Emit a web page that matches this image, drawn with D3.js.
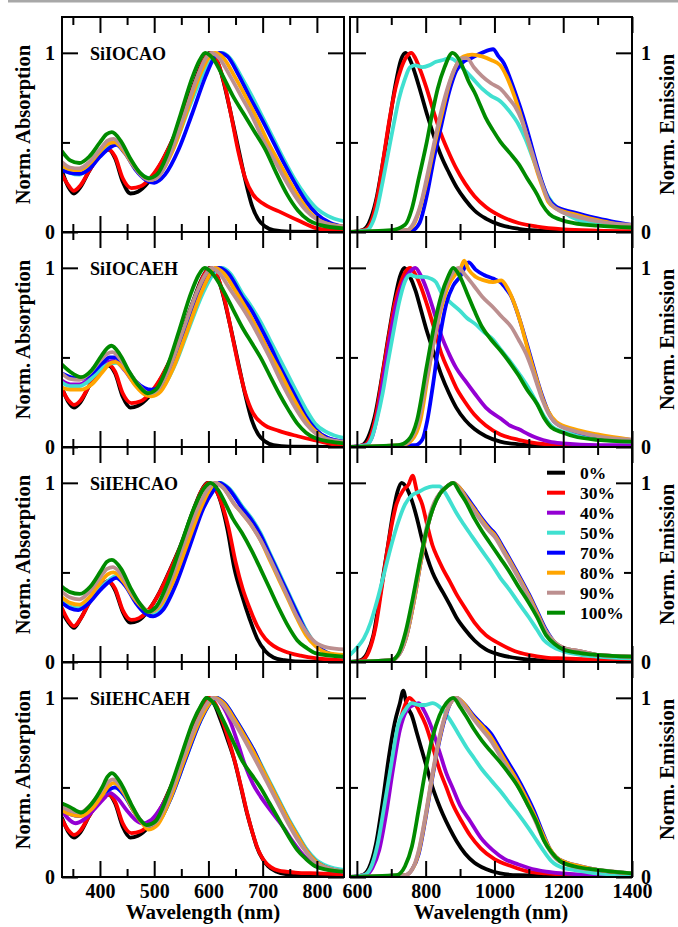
<!DOCTYPE html>
<html><head><meta charset="utf-8">
<script src="https://cdn.jsdelivr.net/npm/d3@7"></script>
<style>body{margin:0;background:#fff}svg{display:block}</style>
</head><body>
<script>
// ---------- categories / labels ----------
const concentrations = ["0%","30%","40%","50%","70%","80%","90%","100%"];
const seriesColors = ["#000000","#ff0000","#9400d3","#40e0d0","#0000ff","#ffa500","#bc8f8f","#008b00"];
const samples = ["SiIOCAO","SiIOCAEH","SiIEHCAO","SiIEHCAEH"];
const absXMajor = [400,500,600,700,800];
const absXMinor = [350,450,550,650,750];
const emXMajor = [600,800,1000,1200,1400];
const emXMinor = [700,900,1100,1300];
const yMajor = [0,1];
const yMinor = [0.5];

// ---------- Row 1: SiIOCAO ----------
const abs1_p0 = [[330,.34],[342,.25],[352,.215],[364,.25],[380,.34],[400,.43],[416,.46],[428,.41],[442,.28],[456,.215],[470,.225],[490,.28],[510,.37],[530,.49],[550,.63],[570,.8],[588,.94],[602,1],[614,.97],[626,.86],[640,.68],[655,.47],[668,.29],[680,.15],[692,.07],[705,.03],[720,.01],[750,.002],[850,0]];
const abs1_p30 = [[330,.32],[342,.26],[352,.23],[364,.26],[380,.34],[400,.43],[416,.46],[428,.42],[442,.3],[458,.245],[475,.255],[495,.31],[515,.4],[535,.52],[555,.66],[575,.83],[592,.96],[605,1],[618,.94],[630,.82],[642,.65],[655,.45],[668,.3],[682,.21],[700,.16],[730,.115],[765,.065],[800,.02],[830,.008],[850,.005]];
const abs1_p50 = [[330,.36],[345,.33],[362,.32],[380,.36],[400,.43],[418,.48],[432,.495],[448,.44],[465,.36],[482,.31],[495,.3],[515,.35],[540,.5],[565,.7],[590,.88],[610,.98],[625,1],[640,.97],[660,.87],[680,.76],[700,.64],[720,.52],[740,.4],[760,.29],[780,.2],[800,.13],[820,.09],[850,.06]];
const abs1_p70 = [[330,.345],[345,.33],[362,.325],[380,.35],[400,.42],[418,.47],[430,.486],[446,.44],[465,.35],[485,.29],[500,.275],[520,.32],[545,.46],[570,.66],[595,.87],[610,.97],[620,1],[635,.98],[655,.88],[675,.76],[700,.62],[720,.5],[740,.38],[760,.27],[780,.17],[800,.1],[825,.05],[850,.03]];
const abs1_p80 = [[330,.37],[345,.35],[362,.345],[380,.38],[400,.45],[416,.495],[427,.5],[444,.45],[462,.37],[480,.31],[493,.29],[510,.32],[535,.46],[560,.67],[585,.88],[602,.98],[612,1],[628,.97],[648,.87],[668,.76],[690,.63],[710,.5],[730,.39],[750,.28],[770,.18],[790,.1],[815,.05],[850,.03]];
const abs1_p90 = [[330,.39],[345,.36],[362,.355],[380,.39],[400,.46],[414,.51],[425,.52],[442,.47],[460,.38],[478,.31],[492,.29],[508,.31],[530,.44],[555,.65],[580,.87],[595,.97],[605,1],[620,.97],[640,.87],[660,.76],[680,.65],[700,.52],[720,.41],[740,.3],[760,.2],[780,.12],[800,.07],[825,.04],[850,.03]];
const abs1_p100 = [[330,.45],[345,.4],[362,.385],[380,.42],[400,.5],[412,.545],[422,.557],[438,.51],[456,.41],[474,.33],[490,.3],[505,.32],[525,.44],[548,.65],[570,.86],[584,.96],[594,1],[608,.97],[625,.88],[645,.76],[665,.66],[685,.56],[705,.46],[725,.33],[745,.21],[765,.12],[785,.065],[805,.04],[850,.02]];

const em1_p0 = [[580,0],[615,.01],[635,.05],[655,.17],[675,.38],[695,.62],[712,.82],[728,.96],[742,1],[755,.96],[770,.88],[787,.77],[805,.65],[825,.53],[846,.42],[868,.33],[890,.25],[915,.18],[942,.12],[975,.075],[1017,.04],[1070,.018],[1124,.008],[1200,.003],[1400,0]];
const em1_p30 = [[580,0],[620,.01],[640,.05],[660,.2],[678,.42],[695,.63],[712,.8],[730,.92],[745,.98],[758,1],[770,.97],[785,.9],[803,.8],[825,.66],[846,.54],[868,.44],[889,.355],[915,.27],[942,.2],[975,.14],[1017,.09],[1070,.05],[1124,.03],[1200,.015],[1300,.008],[1400,.005]];
const em1_p50 = [[580,0],[630,.01],[645,.05],[660,.14],[675,.28],[690,.43],[707,.6],[722,.74],[739,.85],[755,.92],[770,.93],[790,.92],[810,.93],[830,.95],[850,.96],[870,.97],[890,.95],[910,.91],[935,.86],[964,.8],[990,.76],[1017,.73],[1045,.67],[1070,.6],[1090,.52],[1110,.42],[1130,.32],[1150,.22],[1170,.16],[1200,.11],[1240,.07],[1300,.045],[1350,.035],[1400,.03]];
const em1_p70 = [[580,0],[760,.01],[782,.05],[803,.2],[825,.42],[846,.6],[868,.78],[889,.9],[910,.95],[932,.97],[964,1],[996,1.02],[1012,.98],[1028,.94],[1045,.86],[1060,.78],[1076,.69],[1092,.59],[1108,.48],[1124,.37],[1140,.27],[1156,.19],[1180,.14],[1231,.11],[1290,.08],[1340,.06],[1400,.04]];
const em1_p80 = [[580,0],[745,.01],[765,.04],[783,.13],[803,.28],[825,.48],[846,.65],[868,.82],[889,.93],[910,.98],[935,.99],[964,.98],[990,.96],[1017,.93],[1035,.87],[1050,.8],[1070,.69],[1092,.55],[1110,.43],[1124,.34],[1140,.25],[1156,.17],[1180,.13],[1231,.1],[1290,.07],[1340,.05],[1400,.03]];
const em1_p90 = [[580,0],[745,.01],[765,.05],[785,.15],[803,.3],[825,.5],[846,.68],[868,.83],[889,.93],[905,.97],[920,.97],[940,.92],[964,.87],[990,.83],[1017,.8],[1040,.75],[1060,.7],[1080,.62],[1095,.53],[1110,.44],[1124,.35],[1140,.26],[1156,.18],[1180,.13],[1231,.09],[1300,.06],[1400,.04]];
const em1_p100 = [[580,0],[700,.01],[740,.04],[760,.13],[780,.3],[803,.5],[820,.67],[835,.8],[855,.92],[878,1],[895,.97],[910,.91],[925,.84],[942,.78],[958,.71],[974,.64],[995,.57],[1017,.505],[1045,.44],[1070,.38],[1095,.3],[1124,.21],[1140,.15],[1160,.1],[1190,.07],[1231,.05],[1300,.035],[1400,.025]];

// ---------- Row 2: SiIOCAEH ----------
const abs2_p0 = [[330,.33],[342,.25],[352,.22],[364,.25],[380,.34],[400,.43],[416,.455],[428,.41],[442,.28],[456,.22],[470,.23],[490,.28],[510,.37],[530,.49],[550,.63],[570,.8],[588,.94],[602,1],[614,.97],[626,.86],[640,.68],[655,.47],[668,.29],[680,.15],[692,.07],[705,.03],[720,.01],[750,.002],[850,0]];
const abs2_p30 = [[330,.32],[342,.26],[352,.235],[364,.26],[380,.34],[400,.43],[416,.46],[428,.42],[442,.3],[458,.245],[475,.255],[495,.31],[515,.4],[535,.52],[555,.66],[575,.83],[592,.96],[605,1],[618,.94],[630,.82],[642,.65],[655,.46],[668,.3],[682,.19],[700,.13],[730,.09],[765,.06],[800,.035],[830,.015],[850,.01]];
const abs2_p40 = [[330,.37],[345,.35],[362,.35],[380,.38],[400,.44],[415,.475],[427,.48],[445,.43],[465,.35],[482,.31],[492,.3],[510,.33],[535,.47],[560,.67],[588,.89],[605,.98],[615,1],[630,.97],[650,.88],[670,.77],[695,.63],[715,.51],[735,.39],[755,.28],[775,.18],[795,.1],[820,.05],[850,.03]];
const abs2_p50 = [[330,.36],[345,.34],[362,.34],[380,.37],[400,.43],[418,.465],[430,.47],[448,.43],[466,.36],[484,.31],[497,.3],[515,.33],[540,.47],[565,.67],[590,.86],[610,.97],[625,1],[640,.97],[662,.86],[680,.78],[696,.7],[713,.6],[730,.5],[747,.4],[764,.3],[780,.21],[797,.13],[820,.08],[850,.05]];
const abs2_p70 = [[330,.41],[345,.39],[365,.38],[385,.41],[405,.47],[418,.5],[428,.5],[446,.45],[465,.37],[482,.33],[495,.32],[512,.34],[535,.46],[560,.66],[588,.88],[608,.98],[620,1],[636,.97],[662,.84],[680,.76],[696,.67],[713,.57],[730,.46],[747,.36],[764,.26],[780,.17],[797,.1],[820,.05],[850,.03]];
const abs2_p80 = [[330,.33],[345,.32],[365,.32],[385,.35],[405,.42],[418,.465],[428,.475],[446,.43],[466,.34],[484,.29],[495,.283],[512,.31],[535,.44],[560,.64],[588,.87],[602,.96],[612,1],[628,.97],[650,.87],[670,.77],[690,.66],[710,.54],[730,.43],[750,.31],[770,.2],[790,.11],[815,.05],[850,.02]];
const abs2_p90 = [[330,.41],[345,.38],[362,.375],[380,.41],[400,.48],[413,.52],[423,.53],[440,.48],[458,.4],[476,.33],[490,.3],[506,.32],[528,.44],[553,.65],[578,.86],[594,.96],[605,1],[620,.97],[640,.88],[662,.78],[680,.69],[696,.6],[713,.5],[730,.39],[747,.29],[764,.2],[780,.13],[800,.07],[825,.04],[850,.03]];
const abs2_p100 = [[330,.46],[345,.42],[365,.39],[385,.43],[403,.51],[413,.55],[421,.565],[436,.52],[454,.42],[472,.34],[488,.3],[503,.32],[523,.44],[546,.65],[568,.86],[582,.96],[593,1],[607,.97],[628,.87],[645,.77],[662,.67],[680,.58],[696,.5],[713,.4],[730,.3],[747,.21],[764,.13],[780,.08],[797,.05],[850,.02]];

const em2_p0 = [[580,0],[615,.01],[632,.05],[652,.17],[672,.38],[692,.62],[710,.82],[725,.95],[738,1],[752,.96],[771,.87],[787,.76],[803,.65],[825,.52],[846,.4],[868,.3],[889,.22],[915,.15],[942,.1],[975,.06],[1017,.03],[1070,.015],[1124,.008],[1200,.003],[1400,0]];
const em2_p30 = [[580,0],[620,.01],[638,.05],[658,.2],[676,.42],[694,.63],[710,.8],[728,.92],[742,.98],[755,1],[768,.97],[785,.9],[803,.8],[825,.66],[846,.52],[868,.42],[889,.33],[915,.25],[942,.18],[975,.12],[1017,.07],[1070,.04],[1124,.02],[1200,.01],[1400,.005]];
const em2_p40 = [[580,0],[625,.01],[643,.05],[662,.2],[680,.42],[698,.63],[715,.8],[735,.92],[755,.98],[770,1],[785,.96],[803,.88],[825,.75],[846,.62],[868,.52],[889,.44],[915,.37],[942,.3],[975,.22],[1017,.16],[1045,.12],[1070,.1],[1100,.07],[1124,.05],[1160,.03],[1200,.02],[1300,.01],[1400,.01]];
const em2_p50 = [[580,0],[628,.01],[643,.05],[658,.15],[675,.3],[690,.47],[707,.65],[722,.8],[739,.92],[755,.96],[775,.95],[795,.95],[815,.94],[830,.92],[846,.86],[870,.81],[900,.76],[920,.72],[942,.69],[970,.64],[996,.6],[1020,.54],[1049,.47],[1075,.4],[1102,.32],[1125,.24],[1145,.17],[1170,.11],[1210,.08],[1260,.06],[1320,.04],[1400,.03]];
const em2_p70 = [[580,0],[770,.01],[790,.04],[805,.15],[820,.33],[840,.6],[860,.8],[880,.9],[900,.95],[925,1.03],[945,.99],[970,.96],[996,.94],[1017,.92],[1035,.88],[1049,.84],[1065,.76],[1080,.67],[1095,.57],[1110,.47],[1125,.37],[1140,.28],[1156,.2],[1175,.14],[1231,.09],[1300,.06],[1400,.04]];
const em2_p80 = [[580,0],[730,.01],[760,.04],[785,.15],[805,.38],[825,.6],[846,.78],[866,.9],[885,.96],[900,.99],[912,1.04],[925,.99],[945,.95],[970,.93],[996,.92],[1020,.93],[1040,.88],[1058,.8],[1075,.7],[1092,.58],[1108,.47],[1124,.37],[1140,.27],[1156,.2],[1180,.14],[1231,.1],[1300,.07],[1400,.04]];
const em2_p90 = [[580,0],[730,.01],[755,.04],[780,.15],[800,.35],[820,.55],[840,.75],[860,.9],[878,.97],[895,1],[915,.96],[940,.9],[964,.84],[996,.78],[1020,.73],[1049,.67],[1070,.6],[1092,.52],[1110,.43],[1124,.35],[1140,.26],[1156,.19],[1180,.13],[1231,.09],[1300,.06],[1400,.04]];
const em2_p100 = [[580,0],[720,.01],[750,.04],[775,.15],[803,.45],[825,.68],[846,.85],[865,.95],[880,1],[900,.95],[920,.86],[942,.76],[964,.67],[990,.6],[1017,.54],[1045,.47],[1070,.4],[1095,.32],[1124,.24],[1145,.16],[1165,.11],[1200,.08],[1231,.06],[1300,.04],[1400,.03]];

// ---------- Row 3: SiIEHCAO ----------
const abs3_p0 = [[330,.28],[342,.22],[352,.19],[364,.24],[380,.33],[400,.42],[415,.45],[428,.4],[442,.28],[456,.22],[470,.23],[490,.29],[510,.39],[530,.52],[550,.66],[570,.83],[586,.95],[598,1],[610,.98],[622,.9],[635,.74],[648,.52],[662,.37],[676,.24],[690,.13],[705,.06],[720,.025],[740,.01],[760,.003],[850,0]];
const abs3_p30 = [[330,.3],[342,.23],[352,.2],[364,.24],[380,.33],[400,.42],[415,.45],[428,.41],[442,.29],[458,.235],[472,.245],[492,.3],[512,.4],[532,.53],[552,.67],[572,.84],[588,.96],[600,1],[612,.97],[625,.88],[637,.75],[650,.56],[663,.41],[676,.3],[690,.2],[705,.13],[720,.09],[740,.06],[770,.035],[800,.02],[850,.01]];
const abs3_p50 = [[330,.35],[345,.31],[360,.3],[380,.34],[400,.41],[418,.46],[430,.48],[448,.43],[466,.34],[484,.28],[497,.265],[515,.3],[540,.45],[565,.66],[590,.87],[610,.97],[622,1],[638,.97],[662,.87],[680,.8],[696,.72],[713,.61],[730,.5],[747,.39],[764,.28],[780,.18],[797,.1],[820,.05],[850,.03]];
const abs3_p70 = [[330,.33],[345,.3],[360,.29],[380,.33],[400,.4],[418,.45],[430,.47],[448,.42],[466,.33],[484,.27],[498,.255],[516,.29],[541,.44],[566,.65],[591,.86],[610,.96],[620,1],[636,.97],[662,.86],[680,.79],[696,.71],[713,.6],[730,.49],[747,.38],[764,.27],[780,.17],[797,.1],[820,.05],[850,.03]];
const abs3_p80 = [[330,.36],[345,.33],[362,.32],[380,.36],[400,.44],[415,.49],[425,.5],[443,.45],[462,.36],[480,.3],[492,.28],[510,.31],[535,.45],[560,.65],[586,.86],[602,.96],[612,1],[628,.97],[648,.88],[662,.83],[680,.76],[696,.68],[713,.57],[730,.46],[747,.35],[764,.24],[780,.15],[797,.09],[820,.05],[850,.04]];
const abs3_p90 = [[330,.39],[345,.36],[362,.35],[380,.39],[400,.47],[413,.52],[424,.53],[441,.48],[460,.38],[478,.31],[490,.28],[507,.31],[530,.45],[555,.66],[582,.87],[600,.97],[612,1],[628,.97],[648,.88],[662,.83],[680,.76],[696,.68],[713,.58],[730,.47],[747,.36],[764,.25],[780,.17],[797,.11],[820,.08],[850,.07]];
const abs3_p100 = [[330,.42],[345,.39],[363,.38],[382,.42],[402,.51],[413,.56],[422,.57],[439,.52],[457,.41],[475,.32],[488,.28],[504,.31],[526,.45],[550,.66],[575,.87],[592,.97],[604,1],[618,.96],[632,.88],[645,.8],[662,.72],[680,.62],[696,.52],[713,.41],[730,.3],[747,.2],[764,.12],[780,.08],[797,.05],[850,.03]];

const em3_p0 = [[580,0],[610,.01],[630,.05],[648,.15],[668,.38],[688,.62],[705,.83],[718,.95],[730,1],[745,.97],[760,.9],[775,.8],[790,.68],[805,.58],[820,.5],[835,.44],[850,.39],[870,.32],[889,.25],[915,.18],[942,.12],[975,.07],[1017,.04],[1070,.02],[1124,.01],[1200,.005],[1400,0]];
const em3_p30 = [[580,0],[615,.01],[635,.06],[655,.2],[675,.45],[695,.7],[715,.88],[735,.96],[750,.99],[762,1.04],[775,.95],[790,.88],[805,.76],[820,.65],[835,.58],[850,.52],[870,.45],[889,.38],[915,.3],[942,.22],[975,.15],[1017,.1],[1060,.06],[1100,.04],[1150,.025],[1200,.02],[1400,.01]];
const em3_p50 = [[580,.04],[600,.08],[620,.13],[640,.22],[660,.35],[680,.5],[700,.65],[720,.78],[740,.88],[760,.93],[780,.95],[800,.97],[820,.98],[840,.98],[855,.95],[870,.9],[890,.83],[910,.77],[935,.7],[964,.62],[990,.55],[1017,.47],[1045,.4],[1070,.33],[1100,.25],[1124,.18],[1145,.12],[1165,.09],[1200,.06],[1250,.04],[1300,.03],[1400,.02]];
const em3_p70 = [[580,0],[700,.01],[725,.05],[745,.15],[765,.33],[785,.55],[805,.75],[825,.88],[845,.95],[862,.98],[880,1],[900,.97],[920,.92],[942,.86],[964,.8],[985,.75],[1000,.72],[1025,.64],[1049,.56],[1075,.47],[1100,.38],[1125,.28],[1150,.18],[1175,.11],[1200,.08],[1250,.06],[1300,.04],[1400,.03]];
const em3_p80 = [[580,0],[700,.01],[725,.05],[745,.15],[765,.33],[785,.55],[805,.75],[825,.88],[845,.95],[862,.98],[880,1],[900,.97],[920,.91],[942,.85],[964,.79],[985,.74],[1000,.71],[1025,.63],[1049,.55],[1075,.46],[1100,.37],[1125,.27],[1150,.17],[1175,.11],[1200,.08],[1250,.06],[1300,.04],[1400,.03]];
const em3_p90 = [[580,0],[700,.01],[725,.05],[745,.16],[765,.35],[785,.57],[805,.77],[825,.89],[845,.95],[862,.98],[880,1],[900,.96],[920,.9],[942,.84],[964,.78],[985,.73],[1000,.7],[1025,.62],[1049,.54],[1075,.45],[1100,.36],[1125,.26],[1150,.17],[1175,.11],[1200,.08],[1250,.06],[1300,.04],[1400,.03]];
const em3_p100 = [[580,0],[700,.01],[722,.05],[742,.17],[762,.35],[782,.55],[802,.73],[822,.86],[842,.94],[862,.98],[880,1],[898,.95],[915,.9],[942,.8],[964,.73],[985,.67],[1017,.58],[1045,.5],[1070,.42],[1100,.33],[1124,.25],[1150,.15],[1175,.1],[1200,.07],[1250,.05],[1300,.04],[1400,.03]];

// ---------- Row 4: SiIEHCAEH ----------
const abs4_p0 = [[330,.33],[342,.25],[352,.22],[364,.25],[380,.34],[400,.43],[416,.46],[428,.41],[442,.28],[456,.22],[470,.23],[490,.28],[510,.37],[530,.5],[550,.65],[570,.82],[586,.95],[598,1],[610,.97],[622,.88],[635,.77],[648,.65],[660,.5],[670,.37],[680,.26],[689,.17],[700,.1],[710,.06],[725,.03],[745,.015],[850,.01]];
const abs4_p30 = [[330,.32],[342,.26],[352,.235],[364,.26],[380,.34],[400,.43],[416,.46],[428,.42],[442,.3],[458,.245],[475,.255],[495,.31],[515,.4],[535,.53],[555,.67],[574,.84],[590,.96],[602,1],[614,.96],[626,.87],[638,.76],[650,.63],[662,.48],[672,.35],[682,.24],[692,.15],[703,.09],[715,.055],[730,.035],[760,.025],[800,.02],[850,.015]];
const abs4_p40 = [[330,.37],[340,.33],[355,.3],[370,.32],[390,.38],[408,.44],[418,.47],[432,.44],[450,.37],[465,.32],[478,.3],[495,.32],[515,.4],[540,.55],[565,.74],[588,.9],[603,.98],[612,1],[625,.96],[640,.87],[655,.74],[668,.62],[682,.52],[696,.45],[710,.39],[725,.33],[740,.27],[755,.2],[770,.14],[790,.08],[815,.045],[850,.03]];
const abs4_p50 = [[330,.39],[345,.36],[362,.35],[380,.39],[400,.45],[418,.49],[428,.5],[446,.45],[464,.36],[480,.3],[490,.285],[508,.31],[532,.45],[558,.66],[585,.87],[603,.97],[615,1],[630,.97],[650,.88],[668,.79],[685,.7],[700,.61],[715,.52],[730,.43],[747,.33],[764,.24],[780,.16],[797,.1],[820,.06],[850,.04]];
const abs4_p70 = [[330,.37],[345,.35],[362,.34],[380,.38],[400,.45],[418,.49],[428,.5],[446,.45],[464,.36],[480,.3],[490,.285],[508,.31],[532,.45],[558,.66],[585,.87],[603,.97],[615,1],[630,.97],[650,.88],[668,.79],[685,.7],[700,.6],[715,.51],[730,.42],[747,.32],[764,.23],[780,.15],[797,.09],[820,.05],[850,.03]];
const abs4_p80 = [[330,.37],[345,.35],[365,.34],[385,.38],[405,.46],[417,.51],[426,.525],[444,.47],[462,.37],[478,.3],[490,.265],[506,.29],[530,.44],[555,.65],[582,.86],[600,.96],[612,1],[628,.97],[648,.88],[666,.79],[683,.7],[700,.6],[715,.51],[730,.42],[747,.32],[764,.23],[780,.15],[797,.09],[820,.05],[850,.03]];
const abs4_p90 = [[330,.39],[345,.37],[363,.36],[382,.4],[402,.48],[415,.53],[424,.545],[442,.49],[460,.39],[477,.31],[488,.285],[505,.31],[528,.45],[553,.66],[580,.87],[598,.97],[608,1],[624,.97],[644,.88],[662,.79],[680,.69],[696,.6],[713,.5],[730,.4],[747,.3],[764,.21],[780,.14],[797,.08],[820,.05],[850,.03]];
const abs4_p100 = [[330,.41],[345,.39],[365,.36],[385,.41],[404,.5],[414,.56],[422,.58],[439,.52],[457,.41],[474,.32],[486,.29],[502,.31],[524,.45],[548,.66],[572,.87],[587,.96],[596,1],[610,.97],[628,.87],[645,.76],[662,.65],[680,.57],[696,.5],[713,.41],[730,.32],[747,.23],[764,.15],[780,.1],[797,.06],[820,.04],[850,.03]];

const em4_p0 = [[580,0],[615,.01],[635,.05],[655,.18],[675,.42],[693,.67],[710,.86],[725,.97],[735,1.04],[745,.96],[760,.9],[775,.8],[790,.7],[805,.6],[820,.5],[835,.42],[850,.35],[870,.27],[890,.2],[915,.13],[942,.08],[975,.045],[1017,.02],[1070,.01],[1400,0]];
const em4_p30 = [[580,0],[620,.01],[640,.05],[660,.15],[680,.35],[700,.6],[720,.82],[740,.96],[752,1],[765,.98],[780,.93],[800,.85],[820,.73],[840,.6],[860,.5],[880,.4],[905,.31],[930,.23],[960,.16],[1000,.1],[1050,.06],[1100,.03],[1150,.02],[1250,.01],[1400,.005]];
const em4_p40 = [[580,0],[625,.01],[645,.05],[665,.15],[685,.35],[705,.6],[725,.82],[745,.93],[765,.96],[780,.97],[795,.93],[820,.82],[840,.7],[860,.58],[880,.49],[900,.4],[930,.31],[960,.22],[995,.15],[1030,.1],[1070,.07],[1100,.05],[1150,.03],[1200,.02],[1300,.01],[1400,.01]];
const em4_p50 = [[580,0],[620,.01],[640,.05],[660,.18],[680,.4],[700,.63],[720,.85],[740,.93],[760,.97],[780,.96],[800,.96],[820,.97],[840,.95],[855,.92],[870,.88],[895,.8],[920,.72],[942,.66],[964,.6],[990,.54],[1017,.48],[1045,.41],[1070,.35],[1100,.27],[1124,.2],[1145,.14],[1165,.09],[1200,.05],[1230,.04],[1300,.02],[1400,.01]];
const em4_p70 = [[580,0],[740,.01],[760,.04],[780,.13],[800,.33],[820,.56],[840,.76],[860,.91],[875,.98],[890,1],[910,.97],[940,.9],[965,.85],[990,.8],[1015,.72],[1040,.64],[1065,.56],[1090,.47],[1115,.37],[1140,.25],[1160,.16],[1180,.11],[1210,.08],[1250,.06],[1300,.04],[1400,.02]];
const em4_p80 = [[580,0],[740,.01],[760,.04],[780,.14],[800,.34],[820,.57],[840,.77],[860,.92],[875,.98],[890,1],[910,.97],[940,.89],[965,.84],[990,.78],[1015,.7],[1040,.62],[1065,.54],[1090,.45],[1115,.35],[1140,.24],[1160,.16],[1180,.11],[1210,.08],[1250,.06],[1300,.04],[1400,.02]];
const em4_p90 = [[580,0],[740,.01],[760,.04],[780,.15],[800,.35],[820,.58],[840,.78],[860,.92],[875,.98],[890,1],[910,.96],[940,.88],[965,.82],[990,.76],[1015,.68],[1040,.6],[1065,.52],[1090,.43],[1115,.33],[1140,.22],[1160,.15],[1180,.1],[1210,.07],[1250,.05],[1300,.04],[1400,.02]];
const em4_p100 = [[580,0],[715,.01],[740,.06],[760,.17],[780,.38],[800,.6],[820,.78],[840,.9],[860,.97],[880,1],[900,.95],[920,.89],[942,.82],[964,.76],[990,.7],[1017,.64],[1045,.57],[1070,.5],[1095,.41],[1124,.3],[1145,.2],[1165,.14],[1190,.09],[1231,.06],[1300,.04],[1400,.02]];

// series per row, in legend order (null = not measured)
const absRows = [
  [abs1_p0, abs1_p30, null, abs1_p50, abs1_p70, abs1_p80, abs1_p90, abs1_p100],
  [abs2_p0, abs2_p30, abs2_p40, abs2_p50, abs2_p70, abs2_p80, abs2_p90, abs2_p100],
  [abs3_p0, abs3_p30, null, abs3_p50, abs3_p70, abs3_p80, abs3_p90, abs3_p100],
  [abs4_p0, abs4_p30, abs4_p40, abs4_p50, abs4_p70, abs4_p80, abs4_p90, abs4_p100]
];
const emRows = [
  [em1_p0, em1_p30, null, em1_p50, em1_p70, em1_p80, em1_p90, em1_p100],
  [em2_p0, em2_p30, em2_p40, em2_p50, em2_p70, em2_p80, em2_p90, em2_p100],
  [em3_p0, em3_p30, null, em3_p50, em3_p70, em3_p80, em3_p90, em3_p100],
  [em4_p0, em4_p30, em4_p40, em4_p50, em4_p70, em4_p80, em4_p90, em4_p100]
];

// ---------- drawing ----------
const W = 678, H = 927;
const FONT = "'Liberation Serif','Times New Roman',serif";
const svg = d3.select("body").append("svg").attr("width", W).attr("height", H)
  .style("font-family", FONT);

svg.append("rect").attr("x", 8).attr("y", 0).attr("width", W - 8).attr("height", 2.5).attr("fill", "#a8a8a8");

const rowTop0 = 17, rowH = 215;
const L = {x0: 62, x1: 344}, R = {x0: 350, x1: 632};
const xAbs = d3.scaleLinear().domain([330, 850]).range([L.x0, L.x1]);
const xEm = d3.scaleLinear().domain([580, 1400]).range([R.x0, R.x1]);
const MAJ = 16, MIN = 8;

const defs = svg.append("defs");

function drawPanel(g, x, y, top, bottom, isBottomRow, side, series, id) {
  const x0 = x.range()[0], x1 = x.range()[1];
  defs.append("clipPath").attr("id", id).append("rect")
    .attr("x", x0).attr("y", top).attr("width", x1 - x0).attr("height", bottom - top);

  const line = d3.line().x(d => x(d[0])).y(d => y(d[1])).curve(d3.curveMonotoneX);
  const cg = g.append("g").attr("clip-path", `url(#${id})`);
  series.forEach((s, i) => {
    if (!s) return;
    cg.append("path").datum(s).attr("d", line).attr("fill", "none")
      .attr("stroke", seriesColors[i]).attr("stroke-width", 3.8)
      .attr("stroke-linejoin", "round").attr("stroke-linecap", "round");
  });

  const majX = side === "L" ? absXMajor : emXMajor;
  const minX = side === "L" ? absXMinor : emXMinor;
  function styleAxis(sel) {
    sel.select(".domain").remove();
    sel.selectAll(".tick line").attr("stroke", "#000").attr("stroke-width", 2);
    sel.selectAll("text").attr("font-family", FONT).attr("font-weight", "bold")
      .attr("font-size", 20).attr("fill", "#000");
  }
  // bottom
  g.append("g").attr("transform", `translate(0,${bottom})`)
    .call(d3.axisBottom(x).tickValues(majX).tickSize(-MAJ).tickPadding(7)
      .tickFormat(isBottomRow ? d3.format("d") : () => ""))
    .call(styleAxis);
  g.append("g").attr("transform", `translate(0,${bottom})`)
    .call(d3.axisBottom(x).tickValues(minX).tickSize(-MIN).tickFormat(() => "")).call(styleAxis);
  // top
  g.append("g").attr("transform", `translate(0,${top})`)
    .call(d3.axisTop(x).tickValues(majX).tickSize(-MAJ).tickFormat(() => "")).call(styleAxis);
  g.append("g").attr("transform", `translate(0,${top})`)
    .call(d3.axisTop(x).tickValues(minX).tickSize(-MIN).tickFormat(() => "")).call(styleAxis);
  // left
  g.append("g").attr("transform", `translate(${x0},0)`)
    .call(d3.axisLeft(y).tickValues(yMajor).tickSize(-MAJ).tickPadding(7)
      .tickFormat(side === "L" ? d3.format("d") : () => "")).call(styleAxis);
  g.append("g").attr("transform", `translate(${x0},0)`)
    .call(d3.axisLeft(y).tickValues(yMinor).tickSize(-MIN).tickFormat(() => "")).call(styleAxis);
  // right
  g.append("g").attr("transform", `translate(${x1},0)`)
    .call(d3.axisRight(y).tickValues(yMajor).tickSize(-MAJ).tickPadding(9)
      .tickFormat(side === "R" ? d3.format("d") : () => "")).call(styleAxis);
  g.append("g").attr("transform", `translate(${x1},0)`)
    .call(d3.axisRight(y).tickValues(yMinor).tickSize(-MIN).tickFormat(() => "")).call(styleAxis);

  g.append("rect").attr("x", x0).attr("y", top).attr("width", x1 - x0).attr("height", bottom - top)
    .attr("fill", "none").attr("stroke", "#000").attr("stroke-width", 2);
}

samples.forEach((name, r) => {
  const top = rowTop0 + r * rowH, bottom = top + rowH;
  const y = d3.scaleLinear().domain([0, 1.2]).range([bottom, top]);
  const g = svg.append("g");
  const isBottom = r === samples.length - 1;
  drawPanel(g, xAbs, y, top, bottom, isBottom, "L", absRows[r], "clipA" + r);
  drawPanel(g, xEm, y, top, bottom, isBottom, "R", emRows[r], "clipE" + r);

  g.append("text").attr("x", 90).attr("y", top + 43).text(name)
    .attr("font-weight", "bold").attr("font-size", 18).attr("fill", "#000");

  const mid = (top + bottom) / 2;
  g.append("text").attr("transform", `translate(30,${mid}) rotate(-90)`)
    .attr("text-anchor", "middle").attr("font-weight", "bold").attr("font-size", 20.5)
    .text("Norm. Absorption");
  g.append("text").attr("transform", `translate(674,${mid}) rotate(-90)`)
    .attr("text-anchor", "middle").attr("font-weight", "bold").attr("font-size", 20.5)
    .text("Norm. Emission");
});

// x axis titles
const axisTitleY = 919;
svg.append("text").attr("x", (L.x0 + L.x1) / 2).attr("y", axisTitleY).attr("text-anchor", "middle")
  .attr("font-weight", "bold").attr("font-size", 21).text("Wavelength (nm)");
svg.append("text").attr("x", (R.x0 + R.x1) / 2).attr("y", axisTitleY).attr("text-anchor", "middle")
  .attr("font-weight", "bold").attr("font-size", 21).text("Wavelength (nm)");

// legend (row 3, right panel)
const lg = svg.append("g");
concentrations.forEach((c, i) => {
  const yy = 472.7 + i * 20;
  lg.append("line").attr("x1", 547).attr("x2", 565).attr("y1", yy).attr("y2", yy)
    .attr("stroke", seriesColors[i]).attr("stroke-width", 4);
  lg.append("text").attr("x", 580).attr("y", yy + 6).attr("font-weight", "bold")
    .attr("font-size", 17.5).text(c);
});
</script>
</body></html>
